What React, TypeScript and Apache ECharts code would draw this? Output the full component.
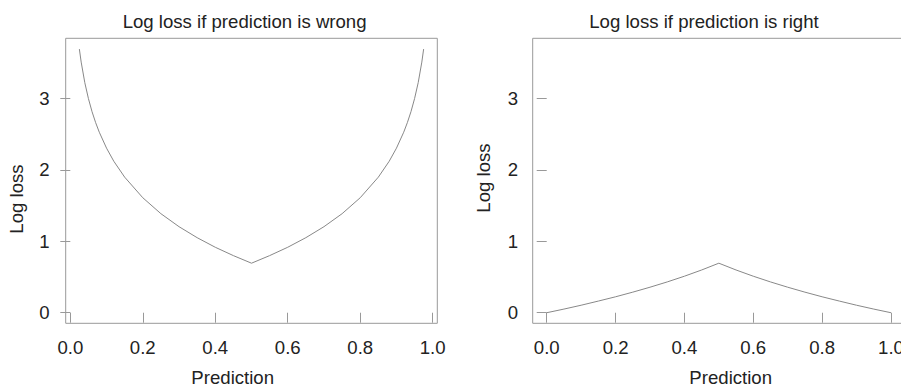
import React, { useEffect, useRef } from "react";
import * as echarts from "echarts";

// Left panel: log loss if prediction is wrong
const predictionWrong = [0.025, 0.03, 0.04, 0.05, 0.06, 0.07, 0.08, 0.1, 0.12, 0.15, 0.2, 0.25, 0.3, 0.35, 0.4, 0.45, 0.5,
  0.55, 0.6, 0.65, 0.7, 0.75, 0.8, 0.85, 0.88, 0.9, 0.92, 0.93, 0.94, 0.95, 0.96, 0.97, 0.975];
const lossWrong = [3.689, 3.507, 3.219, 2.996, 2.813, 2.659, 2.526, 2.303, 2.12, 1.897, 1.609, 1.386, 1.204, 1.05, 0.916, 0.799, 0.693,
  0.799, 0.916, 1.05, 1.204, 1.386, 1.609, 1.897, 2.12, 2.303, 2.526, 2.659, 2.813, 2.996, 3.219, 3.507, 3.689];

// Right panel: log loss if prediction is right
const predictionRight = [0, 0.05, 0.1, 0.15, 0.2, 0.25, 0.3, 0.35, 0.4, 0.45, 0.5, 0.55, 0.6, 0.65, 0.7, 0.75, 0.8, 0.85, 0.9, 0.95, 1];
const lossRight = [0, 0.051, 0.105, 0.163, 0.223, 0.288, 0.357, 0.431, 0.511, 0.598, 0.693,
  0.598, 0.511, 0.431, 0.357, 0.288, 0.223, 0.163, 0.105, 0.051, 0];

const xTicks = [0, 0.2, 0.4, 0.6, 0.8, 1.0];
const yTicks = [0, 1, 2, 3];

const titles = ["Log loss if prediction is wrong", "Log loss if prediction is right"];
const xName = "Prediction";
const yName = "Log loss";

const FONT = "'Liberation Sans', Arial, Helvetica, sans-serif";
const FS = 18.6;
const TXT = "#222";
const GREY = "#999";
const LINE = "#888";

export default function App() {
  const ref = useRef<HTMLDivElement>(null);
  useEffect(() => {
    if (!ref.current) return;
    const chart = echarts.init(ref.current, null, { renderer: "svg" });
    const mkX = (idx: number, min: number, max: number) => ({
      type: "value",
      gridIndex: idx,
      min,
      max,
      splitLine: { show: false },
      axisLine: { show: false },
      axisTick: { show: true, length: 10, customValues: xTicks, lineStyle: { color: GREY, width: 1 } },
      axisLabel: {
        customValues: xTicks,
        formatter: (v: number) => v.toFixed(1),
        margin: 15,
        fontSize: FS,
        fontFamily: FONT,
        color: TXT,
        hideOverlap: false,
      },
    });
    const mkY = (idx: number, margin: number) => ({
      type: "value",
      gridIndex: idx,
      min: -0.148,
      max: 3.84,
      splitLine: { show: false },
      axisLine: { show: false },
      axisTick: { show: true, length: 10, customValues: yTicks, lineStyle: { color: GREY, width: 1 } },
      axisLabel: {
        customValues: yTicks,
        formatter: (v: number) => String(v),
        margin,
        fontSize: FS,
        fontFamily: FONT,
        color: TXT,
      },
    });
    const txt = (text: string, x: number, y: number, rot = 0) => ({
      type: "text",
      x,
      y,
      rotation: rot,
      style: { text, fill: TXT, font: `${FS}px ${FONT}`, align: "center", verticalAlign: "middle" },
    });
    chart.setOption({
      animation: false,
      backgroundColor: "#fff",
      grid: [
        { left: 65.7, top: 38.3, width: 371.6, height: 285, show: true, borderColor: GREY, borderWidth: 1, containLabel: false, outerBoundsMode: "none" },
        { left: 532.7, top: 38.3, width: 372.3, height: 285, show: true, borderColor: GREY, borderWidth: 1, containLabel: false, outerBoundsMode: "none" },
      ],
      xAxis: [mkX(0, -0.0127, 1.0127), mkX(1, -0.0407, 1.0407)],
      yAxis: [mkY(0, 16), mkY(1, 14.5)],
      series: [
        {
          type: "line",
          xAxisIndex: 0,
          yAxisIndex: 0,
          showSymbol: false,
          smooth: false,
          lineStyle: { color: LINE, width: 1 },
          data: predictionWrong.map((x, i) => [x, lossWrong[i]]),
        },
        {
          type: "line",
          xAxisIndex: 1,
          yAxisIndex: 1,
          showSymbol: false,
          smooth: false,
          lineStyle: { color: LINE, width: 1 },
          data: predictionRight.map((x, i) => [x, lossRight[i]]),
        },
      ],
      graphic: [
        txt(titles[0], 244.6, 21),
        txt(titles[1], 704, 21),
        txt(xName, 232.7, 377),
        txt(xName, 730.7, 377),
        txt(yName, 16, 199, Math.PI / 2),
        txt(yName, 483, 178, Math.PI / 2),
      ],
    });
    return () => chart.dispose();
  }, []);
  return <div ref={ref} style={{ position: "fixed", left: 0, top: 0, width: 901, height: 389 }} />;
}
